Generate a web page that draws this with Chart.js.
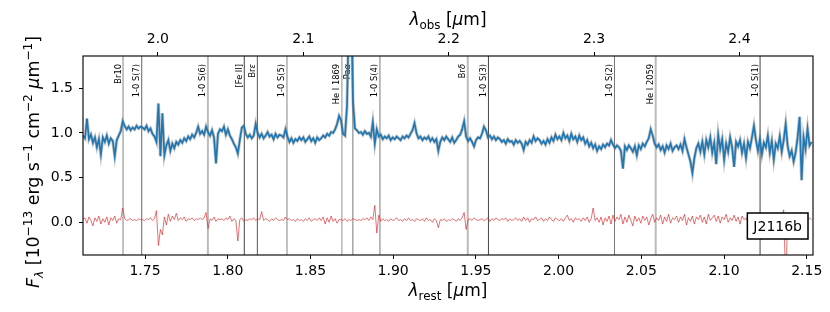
<!DOCTYPE html>
<html>
<head>
<meta charset="utf-8">
<script src="https://cdn.jsdelivr.net/npm/chart.js@4"></script>
<style>
  html, body { margin: 0; padding: 0; background: #fff; }
</style>
</head>
<body>
<canvas id="chart_spec_j2116b" width="830" height="312"></canvas>
<script>
// redshift factor between rest and observed frame
const zFactor = 1.1378;
const restMin = 1.7125, restMax = 2.1538;
const fluxMin = -0.366, fluxMax = 1.861;
// wavelength grid of the spectrum (rest frame, micron)
const gridStart = 1.7125, gridStep = 0.0012;

const specFlux = [
  0.97, 0.94, 1.16, 0.93, 0.98, 0.89, 0.95, 0.84, 0.93, 0.76,
  0.95, 0.90, 0.97, 0.88, 0.94, 0.91, 0.74, 0.92, 0.97, 1.02,
  1.13, 1.08, 1.04, 1.07, 1.03, 1.06, 1.04, 1.08, 1.05, 1.07,
  1.06, 1.04, 1.08, 1.02, 1.05, 0.99, 0.96, 0.90, 1.33, 0.74,
  1.22, 0.75, 0.86, 0.92, 0.80, 0.88, 0.83, 0.90, 0.87, 0.92,
  0.89, 0.94, 0.91, 0.96, 0.93, 0.98, 0.95, 1.00, 1.07, 0.99,
  1.02, 0.98, 1.07, 1.01, 0.97, 1.03, 0.95, 0.66, 0.99, 1.04,
  1.02, 1.07, 0.98, 1.04, 0.97, 0.93, 0.88, 0.84, 0.77, 0.92,
  1.06, 1.08, 0.99, 0.95, 0.98, 0.94, 0.97, 1.10, 1.00, 0.95,
  0.99, 0.94, 0.97, 1.01, 0.96, 0.98, 0.93, 0.99, 0.95, 0.98,
  0.97, 0.95, 1.04, 0.96, 0.90, 0.94, 0.89, 0.93, 0.91, 0.95,
  0.92, 0.95, 0.90, 0.93, 0.96, 0.91, 0.94, 0.89, 0.95, 0.92,
  0.94, 0.97, 0.95, 0.99, 0.97, 1.01, 1.00, 1.04, 1.10, 1.19,
  1.14, 0.99, 0.97, 1.30, 2.40, 2.60, 1.35, 1.05, 1.03, 1.00,
  1.01, 0.98, 1.02, 0.99, 1.00, 0.96, 1.12, 0.88, 1.04, 0.96,
  0.98, 0.93, 0.96, 0.94, 0.97, 0.92, 0.95, 0.93, 0.96, 0.94,
  0.92, 0.96, 0.94, 0.97, 0.95, 0.99, 1.03, 1.11, 1.00, 0.94,
  0.96, 0.92, 0.95, 0.93, 0.96, 0.91, 0.94, 0.90, 0.93, 0.80,
  0.90, 0.95, 0.92, 0.96, 0.93, 0.90, 0.95, 0.89, 0.92, 0.96,
  0.98, 1.04, 1.13, 0.96, 0.91, 0.94, 0.90, 0.85, 0.92, 0.95,
  0.94, 0.99, 1.07, 1.03, 0.95, 0.97, 0.93, 0.96, 0.92, 0.95,
  0.93, 0.90, 0.92, 0.88, 0.93, 0.90, 0.91, 0.87, 0.92, 0.89,
  0.91, 0.88, 0.81, 0.90, 0.87, 0.92, 0.89, 0.96, 0.91, 0.94,
  0.92, 0.88, 0.91, 0.87, 0.93, 0.89, 0.95, 0.91, 0.98, 0.93,
  0.96, 0.92, 1.00, 0.94, 0.97, 0.91, 0.99, 0.93, 0.96, 0.90,
  0.97, 0.92, 0.95, 0.88, 0.92, 0.85, 0.89, 0.83, 0.87, 0.80,
  0.85, 0.82, 0.87, 0.84, 0.88, 0.86, 0.92, 0.87, 0.83, 0.86,
  0.84, 0.80, 0.60, 0.85, 0.81, 0.86, 0.83, 0.79, 0.85, 0.75,
  0.86, 0.82, 0.88, 0.85, 0.90, 0.94, 1.04, 0.97, 0.88, 0.84,
  0.87, 0.81, 0.85, 0.78, 0.86, 0.82, 0.88, 0.80, 0.84, 0.86,
  0.82, 0.87, 0.80, 0.93, 0.84, 0.76, 0.68, 0.55, 0.72, 0.83,
  0.88, 0.79, 0.90, 0.76, 0.92, 0.84, 0.95, 0.78, 0.89, 0.65,
  0.98, 0.82, 0.93, 0.70, 0.88, 0.79, 0.95, 0.84, 0.62, 0.90,
  0.85, 0.92, 0.78, 0.88, 0.72, 0.90, 0.83, 0.95, 1.08, 0.92,
  0.80, 0.93, 0.76, 0.89, 0.84, 0.97, 0.78, 0.91, 0.70, 0.88,
  0.83, 0.96, 0.79, 0.92, 1.10, 0.85, 0.74, 0.80, 0.68, 0.78,
  0.95, 1.18, 0.47, 0.95, 0.82, 1.05, 0.86, 0.90
];

const specResid = [
  0.03, 0.05, -0.01, 0.06, 0.02, -0.04, 0.05, 0.01, 0.07, -0.02,
  0.04, 0.00, 0.06, -0.03, 0.05, 0.02, 0.07, -0.01, 0.04, 0.03,
  0.16, 0.04, 0.02, 0.03, 0.04, 0.02, 0.03, 0.02, 0.04, 0.03,
  0.03, 0.02, 0.04, 0.03, 0.05, 0.02, 0.04, 0.13, -0.26, -0.08,
  -0.14, 0.06, -0.03, 0.09, 0.01, 0.07, 0.03, 0.10, 0.02, 0.05,
  0.03, 0.06, 0.01, 0.04, 0.03, 0.05, 0.02, 0.04, 0.03, 0.05,
  0.03, 0.05, 0.11, -0.07, 0.04, 0.02, 0.06, 0.01, 0.04, 0.03,
  0.04, 0.02, 0.05, 0.03, 0.07, 0.01, 0.04, 0.02, -0.21, 0.03,
  0.05, 0.01, 0.03, 0.02, 0.04, 0.03, 0.05, 0.02, 0.04, 0.03,
  0.12, 0.02, 0.04, 0.03, 0.01, 0.04, 0.02, 0.05, 0.03, 0.02,
  0.03, 0.02, 0.06, 0.03, 0.04, 0.02, 0.03, 0.01, 0.04, 0.02,
  0.03, 0.01, 0.04, 0.02, 0.05, 0.01, 0.03, 0.04, 0.02, 0.05,
  0.02, 0.06, -0.02, 0.05, 0.00, 0.07, 0.01, 0.04, -0.01, 0.03,
  0.03, 0.02, 0.04, 0.01, 0.03, 0.02, 0.04, 0.03, 0.02, 0.03,
  0.02, 0.04, 0.03, 0.05, 0.02, 0.06, 0.03, 0.19, -0.12, 0.08,
  0.01, 0.04, 0.02, 0.03, 0.01, 0.04, 0.02, 0.03, 0.05, 0.02,
  0.03, 0.01, 0.04, 0.02, 0.05, 0.02, 0.03, 0.01, 0.04, 0.03,
  0.02, 0.04, 0.01, 0.05, 0.02, 0.03, 0.00, 0.04, 0.02, -0.06,
  0.03, 0.02, 0.04, 0.01, 0.03, 0.02, 0.04, 0.03, 0.01, 0.04,
  0.02, 0.05, 0.11, -0.08, 0.03, 0.04, 0.02, 0.05, 0.03, 0.02,
  0.03, 0.04, 0.02, 0.03, 0.05, 0.01, 0.04, 0.02, 0.05, 0.03,
  0.02, 0.04, 0.03, 0.05, 0.01, 0.04, 0.02, 0.03, 0.05, 0.02,
  0.04, 0.01, 0.06, 0.02, 0.05, 0.00, 0.04, 0.03, 0.06, 0.02,
  0.03, 0.05, 0.01, 0.04, 0.02, 0.06, 0.03, 0.01, 0.05, 0.03,
  0.02, 0.04, 0.01, 0.05, 0.08, 0.02, 0.04, 0.00, 0.05, 0.03,
  0.04, 0.01, 0.05, 0.02, 0.06, 0.00, 0.04, 0.16, 0.02, 0.05,
  0.00, 0.06, -0.03, 0.05, 0.01, 0.07, -0.02, 0.08, 0.01, 0.06,
  0.03, 0.09, -0.02, 0.06, 0.00, 0.08, 0.02, -0.04, 0.07, 0.01,
  0.05, -0.01, 0.07, 0.02, 0.06, -0.03, 0.04, 0.09, 0.00, 0.05,
  0.02, 0.08, -0.02, 0.06, 0.01, 0.09, -0.01, 0.05, 0.03, 0.07,
  0.00, 0.06, 0.02, 0.09, -0.03, 0.05, 0.01, 0.07, -0.02, 0.06,
  0.03, 0.08, 0.00, 0.06, -0.02, 0.09, 0.02, 0.05, 0.08, 0.01,
  0.07, -0.01, 0.06, 0.03, 0.09, 0.00, 0.05, 0.02, 0.08, 0.01,
  0.06, -0.02, 0.07, 0.03, 0.05, 0.00, 0.08, 0.02, 0.06, 0.01,
  0.05, 0.02, 0.07, -0.01, 0.06, 0.03, 0.08, 0.00, 0.05, 0.02,
  0.06, 0.01, 0.07, 0.14, -0.70, 0.05, 0.02, 0.06, 0.00, 0.04,
  0.07, 0.01, 0.10, 0.03, 0.06, 0.02, 0.05, 0.03
];

const lineNames = ['Br10', '1-0 S(7)', '1-0 S(6)', '[Fe II]', 'Brε', '1-0 S(5)', 'He I 1869',
                   'Paα', '1-0 S(4)', 'Brδ', '1-0 S(3)', '1-0 S(2)', 'He I 2059', '1-0 S(1)'];
const lineRest = [1.7367, 1.7480, 1.7880, 1.8100, 1.8179, 1.8358, 1.8690,
                  1.8756, 1.8920, 1.9451, 1.9576, 2.0338, 2.0587, 2.1218];

const restTicks = [1.75, 1.80, 1.85, 1.90, 1.95, 2.00, 2.05, 2.10, 2.15];
const obsTicks = [2.0, 2.1, 2.2, 2.3, 2.4];
const fluxTicks = [0.0, 0.5, 1.0, 1.5];
const objectName = 'J2116b';

// look of each marker line: [colour, width]
const lineInk = {
  'Br10': ['#9a9a9a', 1.2], '1-0 S(7)': ['#666', 1], '1-0 S(6)': ['#bbb', 2],
  '[Fe II]': ['#444', 1], 'Brε': ['#555', 1], '1-0 S(5)': ['#a0a0a0', 1.3],
  'He I 1869': ['#aaa', 1.3], 'Paα': ['#aaa', 1.6], '1-0 S(4)': ['#999', 1.3],
  'Brδ': ['#bbb', 2], '1-0 S(3)': ['#444', 1], '1-0 S(2)': ['#777', 1],
  'He I 2059': ['#bbb', 2], '1-0 S(1)': ['#444', 1]
};

const FONT = '"DejaVu Sans", sans-serif';

function toPoints(arr) {
  return arr.map((v, i) => ({ x: gridStart + i * gridStep, y: v }));
}

// draws a list of text runs (italic / sub / sup) one after the other
function drawRuns(ctx, runs, x, y, size, align) {
  const parts = runs.map(r => {
    const s = (r.sup || r.sub) ? size * 0.7 : size;
    const font = (r.it ? 'italic ' : '') + s + 'px ' + FONT;
    ctx.font = font;
    return { t: r.t, font: font, w: ctx.measureText(r.t).width,
             dy: r.sup ? -size * 0.4 : (r.sub ? size * 0.22 : 0) };
  });
  const total = parts.reduce((a, p) => a + p.w, 0);
  let cx = align === 'center' ? x - total / 2 : (align === 'right' ? x - total : x);
  ctx.textAlign = 'left';
  ctx.textBaseline = 'alphabetic';
  parts.forEach(p => {
    ctx.font = p.font;
    ctx.fillText(p.t, cx, y + p.dy);
    cx += p.w;
  });
}

function labelRuns(name) {
  return name.split('').reduce((runs, ch) => {
    const it = /[α-ω]/.test(ch);
    const last = runs[runs.length - 1];
    if (last && last.it === it) last.t += ch; else runs.push({ t: ch, it: it });
    return runs;
  }, []);
}

const markerLines = {
  id: 'markerLines',
  beforeDatasetsDraw(chart) {
    const ctx = chart.ctx, area = chart.chartArea, xs = chart.scales.x;
    ctx.save();
    lineRest.forEach((lam, i) => {
      const px = xs.getPixelForValue(lam);
      const ink = lineInk[lineNames[i]];
      ctx.strokeStyle = ink[0];
      ctx.lineWidth = ink[1];
      ctx.beginPath();
      ctx.moveTo(px, area.top);
      ctx.lineTo(px, area.bottom);
      ctx.stroke();
      ctx.save();
      ctx.translate(px - 2.5, area.top + 8);
      ctx.rotate(-Math.PI / 2);
      ctx.fillStyle = '#000';
      drawRuns(ctx, labelRuns(lineNames[i]), 0, 0, 8.3, 'right');
      ctx.restore();
    });
    ctx.restore();
  },
  afterDraw(chart) {
    const ctx = chart.ctx, a = chart.chartArea;
    ctx.save();
    // frame
    ctx.strokeStyle = '#111';
    ctx.lineWidth = 1.2;
    ctx.strokeRect(a.left, a.top, a.right - a.left, a.bottom - a.top);
    // object label box
    ctx.font = '14px ' + FONT;
    const tw = ctx.measureText(objectName).width;
    const bw = tw + 12, bh = 26;
    const bx = a.right - 5 - bw, by = a.bottom - 16 - bh;
    ctx.fillStyle = '#fff';
    ctx.fillRect(bx, by, bw, bh);
    ctx.strokeStyle = '#000';
    ctx.lineWidth = 1.5;
    ctx.strokeRect(bx, by, bw, bh);
    ctx.fillStyle = '#000';
    ctx.textAlign = 'center';
    ctx.textBaseline = 'middle';
    ctx.fillText(objectName, bx + bw / 2, by + bh / 2 + 1);
    // axis titles
    const cx = (a.left + a.right) / 2;
    drawRuns(ctx, [{ t: 'λ', it: true }, { t: 'rest', sub: true }, { t: ' [' }, { t: 'μ', it: true }, { t: 'm]' }],
             cx, 296, 17, 'center');
    drawRuns(ctx, [{ t: 'λ', it: true }, { t: 'obs', sub: true }, { t: ' [' }, { t: 'μ', it: true }, { t: 'm]' }],
             cx, 25, 17, 'center');
    ctx.translate(39, 162);
    ctx.rotate(-Math.PI / 2);
    drawRuns(ctx, [{ t: 'F', it: true }, { t: 'λ', it: true, sub: true }, { t: ' [10' }, { t: '−13', sup: true },
                   { t: ' erg s' }, { t: '−1', sup: true }, { t: ' cm' }, { t: '−2', sup: true },
                   { t: ' ' }, { t: 'μ', it: true }, { t: 'm' }, { t: '−1', sup: true }, { t: ']' }],
             0, 0, 17.4, 'center');
    ctx.restore();
  }
};

function tickSet(values) {
  return scale => { scale.ticks = values.map(v => ({ value: v })); };
}

const tickFont = { family: FONT, size: 14 };

const chart_spec_j2116b = new Chart(document.getElementById('chart_spec_j2116b'), {
  type: 'line',
  data: {
    datasets: [
      {
        label: 'flux',
        data: toPoints(specFlux),
        borderColor: '#1f77b4',
        borderWidth: 1.7,
        pointRadius: 0
      },
      {
        label: 'flux error',
        data: toPoints(specFlux),
        borderColor: 'rgba(110,110,110,0.4)',
        borderWidth: 3.2,
        pointRadius: 0
      },
      {
        label: 'residual',
        data: toPoints(specResid),
        borderColor: 'rgba(214,39,40,0.72)',
        borderWidth: 0.9,
        pointRadius: 0
      }
    ]
  },
  options: {
    animation: false,
    responsive: false,
    devicePixelRatio: 1,
    layout: { padding: { left: 0, right: 17, top: 0, bottom: 0 } },
    plugins: {
      legend: { display: false },
      tooltip: { enabled: false },
      title: { display: false }
    },
    scales: {
      x: {
        type: 'linear',
        position: 'bottom',
        min: restMin,
        max: restMax,
        afterBuildTicks: tickSet(restTicks),
        afterFit: s => { s.height = 57; },
        ticks: { font: tickFont, color: '#000', padding: 4, maxRotation: 0,
                 callback: v => v.toFixed(2) },
        grid: { drawOnChartArea: false, drawTicks: true, tickLength: 4, color: '#000' },
        border: { display: false }
      },
      x2: {
        type: 'linear',
        position: 'top',
        min: restMin * zFactor,
        max: restMax * zFactor,
        afterBuildTicks: tickSet(obsTicks),
        afterFit: s => { s.height = 56; },
        ticks: { font: tickFont, color: '#000', padding: 4, maxRotation: 0,
                 callback: v => v.toFixed(1) },
        grid: { drawOnChartArea: false, drawTicks: true, tickLength: 4, color: '#000' },
        border: { display: false }
      },
      y: {
        type: 'linear',
        min: fluxMin,
        max: fluxMax,
        afterBuildTicks: tickSet(fluxTicks),
        afterFit: s => { s.width = 83; },
        ticks: { font: tickFont, color: '#000', padding: 6,
                 callback: v => v.toFixed(1) },
        grid: { drawOnChartArea: false, drawTicks: true, tickLength: 4, color: '#000' },
        border: { display: false }
      }
    }
  },
  plugins: [markerLines]
});
</script>
</body>
</html>
